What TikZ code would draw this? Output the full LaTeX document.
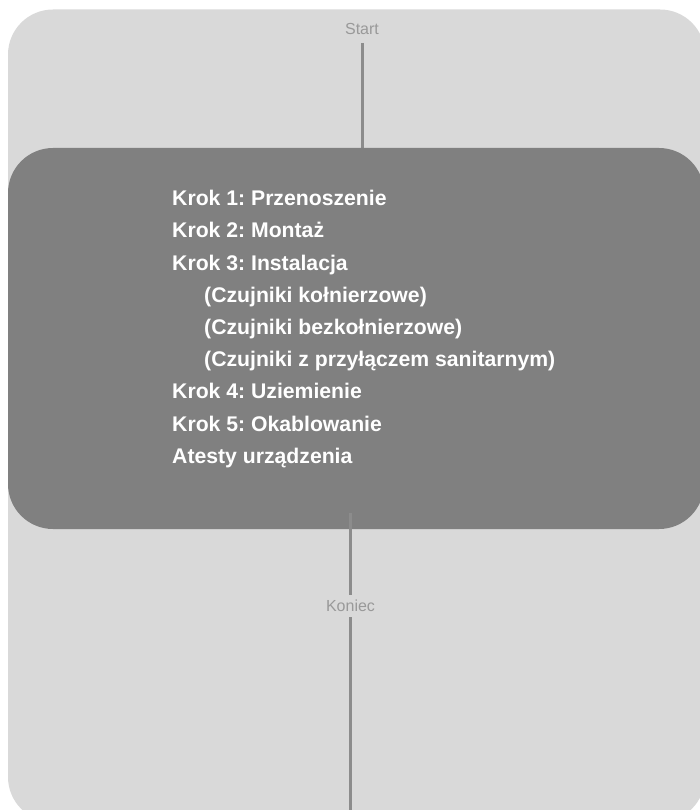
\documentclass[tikz,border=0pt]{standalone}
\usepackage{fontspec}
\setmainfont{Liberation Sans}
\frenchspacing
\definecolor{bglight}{HTML}{D9D9D9}
\definecolor{boxdark}{HTML}{808080}
\definecolor{linegray}{HTML}{8C8C8C}
\definecolor{labelgray}{HTML}{999999}
\begin{document}
\begin{tikzpicture}[x=1pt,y=-1pt,
  steptext/.style={anchor=base west,inner sep=0pt,text=white,font=\fontsize{21.2}{24}\selectfont\bfseries\frenchspacing},
  endlabel/.style={anchor=base,inner sep=0pt,text=labelgray,font=\fontsize{16}{19}\selectfont},
  conn/.style={draw=linegray,line width=3pt}]
\useasboundingbox (0,0) rectangle (700,810);
\begin{scope}
\clip (0,0) rectangle (700,810);
\fill[bglight,rounded corners=45pt] (8,9.5) rectangle (705,822);
\node[endlabel] (start) at (362,34.3) {Start};
\coordinate (topin) at (362,150);
\draw[conn] (362,43) -- (topin);
\fill[boxdark,rounded corners=45pt] (8,148) rectangle (704,529);
\node[endlabel] (koniec) at (350.5,611.7) {Koniec};
\coordinate (boxout) at (350.5,513);
\coordinate (koniecin) at (350.5,595);
\coordinate (bottomend) at (350.5,815);
\draw[conn] (boxout) -- (koniecin);
\draw[conn] (350.5,617) -- (bottomend);
\node[steptext] (s1) at (172,205.7) {Krok 1: Przenoszenie};
\node[steptext] (s2) at (172,237.9) {Krok 2: Montaż};
\node[steptext] (s3) at (172,270.1) {Krok 3: Instalacja};
\node[steptext] (s3a) at (204,302.3) {(Czujniki kołnierzowe)};
\node[steptext] (s3b) at (204,334.5) {(Czujniki bezkołnierzowe)};
\node[steptext] (s3c) at (204,366.7) {(Czujniki z przyłączem sanitarnym)};
\node[steptext] (s4) at (172,398.9) {Krok 4: Uziemienie};
\node[steptext] (s5) at (172,431.1) {Krok 5: Okablowanie};
\node[steptext] (s6) at (172,463.3) {Atesty urządzenia};
\end{scope}
\end{tikzpicture}
\end{document}
